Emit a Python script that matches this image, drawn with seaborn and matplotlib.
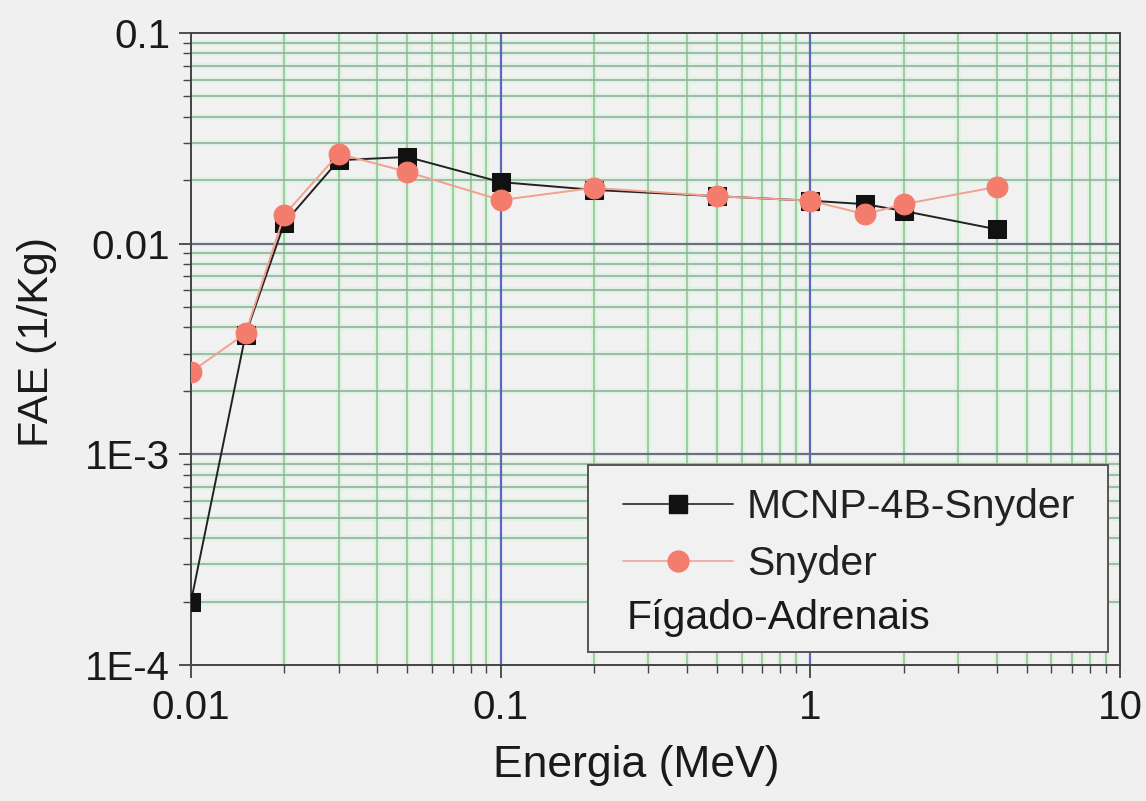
import numpy as np
import pandas as pd
import matplotlib
matplotlib.use("Agg")
import matplotlib.pyplot as plt
import seaborn as sns
from matplotlib.ticker import FixedLocator, FixedFormatter, NullFormatter
from matplotlib.lines import Line2D
from matplotlib.patches import Rectangle

energia = [0.01, 0.015, 0.02, 0.03, 0.05, 0.1, 0.2, 0.5, 1.0, 1.5, 2.0, 4.0]
mcnp = [2.0e-4, 3.7e-3, 0.0125, 0.0249, 0.0258, 0.0196, 0.0180, 0.0168, 0.0160, 0.0154, 0.0143, 0.0117]
snyder = [2.46e-3, 3.75e-3, 0.0137, 0.0267, 0.0219, 0.0161, 0.0184, 0.0168, 0.0160, 0.0138, 0.0154, 0.0186]
series_names = ["MCNP-4B-Snyder", "Snyder"]
legend_note = "Fígado-Adrenais"
x_ticks = [0.01, 0.1, 1, 10]
x_ticklabels = ["0.01", "0.1", "1", "10"]
y_ticks = [1e-4, 1e-3, 1e-2, 1e-1]
y_ticklabels = ["1E-4", "1E-3", "0.01", "0.1"]
x_label = "Energia (MeV)"
y_label = "FAE (1/Kg)"

sns.set_style("white")
plt.rcParams['font.family'] = ['Liberation Sans', 'DejaVu Sans']

bg = "#f0f0f0"
fig = plt.figure(figsize=(11.46, 8.01), dpi=100, facecolor=bg)
L, R, T, B = 191, 1120, 33, 665
ax = fig.add_axes([L/1146, 1-B/801, (R-L)/1146, (B-T)/801])
ax.set_facecolor("#f1f1f1")

def ax_x(px):
    return (px - L) / (R - L)

def ax_y(py):
    return (B - py) / (B - T)

df = pd.DataFrame({
    "Energia": energia * 2,
    "FAE": mcnp + snyder,
    "Serie": [series_names[0]] * len(energia) + [series_names[1]] * len(energia),
})

ax.set_xscale("log")
ax.set_yscale("log")
ax.set_xlim(0.01, 10)
ax.set_ylim(1e-4, 0.1)

minor_x = [m * 10.0**e for e in range(-2, 1) for m in range(2, 10)]
minor_y = [m * 10.0**e for e in range(-4, -1) for m in range(2, 10)]
for xv in minor_x:
    ax.axvline(xv, color="#daf5da", lw=4, zorder=0.5)
    ax.axvline(xv, color="#8fbf98", lw=1.1, zorder=0.6)
for yv in minor_y:
    ax.axhline(yv, color="#ddf2e0", lw=4, zorder=0.5)
    ax.axhline(yv, color="#8ea99c", lw=1.1, zorder=0.6)
for xv in [0.1, 1]:
    ax.axvline(xv, color="#5a68b8", lw=1.6, zorder=0.7)
for yv in [1e-3, 1e-2]:
    ax.axhline(yv, color="#68717f", lw=1.6, zorder=0.7)

sub1 = df[df["Serie"] == series_names[0]]
sub2 = df[df["Serie"] == series_names[1]]
sns.lineplot(data=sub1, x="Energia", y="FAE", ax=ax, color="#222222", lw=1.4,
             marker="s", markersize=13, markerfacecolor="#111111", markeredgecolor="#111111",
             zorder=3, legend=False)
sns.lineplot(data=sub2, x="Energia", y="FAE", ax=ax, color="#f2a090", lw=1.4,
             marker="o", markersize=15, markerfacecolor="#f47c6c", markeredgecolor="#f47c6c",
             zorder=4, legend=False)

ax.xaxis.set_major_locator(FixedLocator(x_ticks))
ax.xaxis.set_major_formatter(FixedFormatter(x_ticklabels))
ax.yaxis.set_major_locator(FixedLocator(y_ticks))
ax.yaxis.set_major_formatter(FixedFormatter(y_ticklabels))
ax.xaxis.set_minor_locator(FixedLocator(minor_x))
ax.yaxis.set_minor_locator(FixedLocator(minor_y))
ax.xaxis.set_minor_formatter(NullFormatter())
ax.yaxis.set_minor_formatter(NullFormatter())
ax.tick_params(axis="both", which="both", bottom=True, left=True, top=False, right=False)
ax.tick_params(axis="both", which="major", direction="out", length=9, width=1.2,
               color="#333333", labelsize=29, labelcolor="#1a1a1a", pad=6)
ax.tick_params(axis="both", which="minor", direction="out", length=6, width=1.0, color="#444444")
ax.tick_params(axis="x", which="major", pad=8)

ax.set_xlabel(x_label, fontsize=32, color="#1a1a1a")
ax.set_ylabel(y_label, fontsize=31, color="#1a1a1a")
ax.xaxis.set_label_coords(ax_x(636), ax_y(765))
ax.yaxis.set_label_coords(ax_x(37), ax_y(342))
ax.xaxis.label.set_va("center")
ax.yaxis.label.set_va("center")

for s in ax.spines.values():
    s.set_color("#444444")
    s.set_linewidth(1.4)
    s.set_visible(True)

# legend frame
ax.add_patch(Rectangle((ax_x(588), ax_y(652)), ax_x(1108) - ax_x(588), ax_y(465) - ax_y(652),
                       transform=ax.transAxes, facecolor="#f1f1f1", edgecolor="#555555",
                       lw=1.4, zorder=5))
handles = [
    Line2D([], [], color="#333333", lw=1.3, marker="s", markersize=13,
           markerfacecolor="#111111", markeredgecolor="#111111"),
    Line2D([], [], color="#f2a8a0", lw=1.3, marker="o", markersize=15,
           markerfacecolor="#f47c6c", markeredgecolor="#f47c6c"),
]
leg = ax.legend(handles, series_names, loc="upper left",
                bbox_to_anchor=(ax_x(623), ax_y(488)),
                frameon=False, fontsize=29.5, handlelength=2.68, handletextpad=0.34,
                borderpad=0, labelspacing=0.47, borderaxespad=0)
leg.set_zorder(6)
for t in leg.get_texts():
    t.set_color("#222222")
ax.text(ax_x(627), ax_y(618), legend_note, transform=ax.transAxes,
        fontsize=29.5, color="#1a1a1a", va="center", ha="left", zorder=7)

fig.savefig("out.png", dpi=100, facecolor=bg)
